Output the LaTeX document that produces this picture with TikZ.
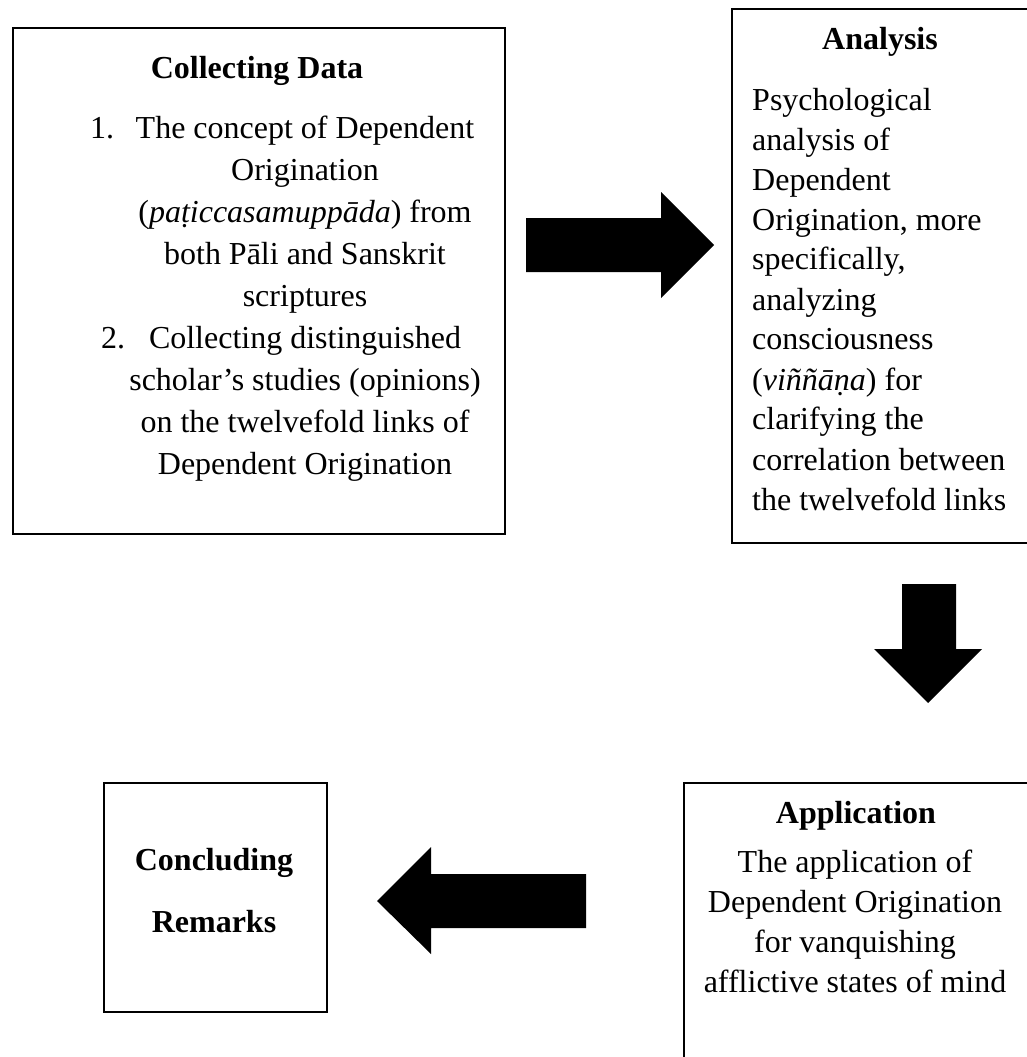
\documentclass[tikz,border=0pt]{standalone}
\usepackage{fontspec}
\setmainfont{Liberation Serif}
\newcommand\mybodyA{\fontsize{32}{42}\selectfont}
\newcommand\mybodyB{\fontsize{32}{40}\selectfont}
\begin{document}
\begin{tikzpicture}[x=1pt,y=-1pt,
  box/.style={draw=black, line width=2.2pt, rectangle, inner sep=0pt, anchor=north west},
  blockarrow/.style={fill=black, draw=none},
  txt/.style={inner sep=0pt, anchor=base},
  ttl/.style={inner sep=0pt, anchor=base, font=\mybodyA\bfseries}]
\useasboundingbox (0,0) rectangle (1027,1057);
\clip (0,0) rectangle (1027,1057);
% boxes
\node[box, minimum width=492pt, minimum height=506pt] (collect) at (12,27) {};
\node[box, minimum width=340pt, minimum height=534pt] (analysis) at (731,8) {};
\node[box, minimum width=223pt, minimum height=229pt] (conclude) at (103,782) {};
\node[box, minimum width=380pt, minimum height=320pt] (apply) at (683,782) {};
% block arrows
\fill[blockarrow] (526,218) -- (661,218) -- (661,192) -- (714,245) -- (661,298) -- (661,272) -- (526,272) -- cycle;
\fill[blockarrow] (902,584) -- (956,584) -- (956,649) -- (982,649) -- (928,703) -- (874,649) -- (902,649) -- cycle;
\fill[blockarrow] (586,874) -- (431,874) -- (431,847) -- (377,901) -- (431,954) -- (431,928) -- (586,928) -- cycle;
% Collecting Data
\node[ttl] (collectT) at (257,78) {Collecting Data};
\node[txt, anchor=base west, font=\mybodyA] (num1) at (90,138) {1.};
\node[txt, anchor=base west, font=\mybodyA] (num2) at (101,348) {2.};
\node[txt, font=\mybodyA] (collectB) at (305,138) {\begin{tabular}[t]{@{}c@{}}
The concept of Dependent\\
Origination\\
(\textit{paṭiccasamuppāda}) from\\
both Pāli and Sanskrit\\
scriptures\\
Collecting distinguished\\
scholar’s studies (opinions)\\
on the twelvefold links of\\
Dependent Origination
\end{tabular}};
% Analysis
\node[ttl] (analysisT) at (880,50) {Analysis};
\node[txt, anchor=base west, font=\mybodyB] (analysisB) at (752,110) {\begin{tabular}[t]{@{}l@{}}
Psychological\\
analysis of\\
Dependent\\
Origination, more\\
specifically,\\
analyzing\\
consciousness\\
(\textit{viññāṇa}) for\\
clarifying the\\
correlation between\\
the twelvefold links
\end{tabular}};
% Application
\node[ttl] (applyT) at (856,823) {Application};
\node[txt, font=\mybodyB] (applyB) at (855,872) {\begin{tabular}[t]{@{}c@{}}
The application of\\
Dependent Origination\\
for vanquishing\\
afflictive states of mind
\end{tabular}};
% Concluding
\node[ttl] (concludeT1) at (214,870) {Concluding};
\node[ttl] (concludeT2) at (214,932) {Remarks};
\end{tikzpicture}
\end{document}
